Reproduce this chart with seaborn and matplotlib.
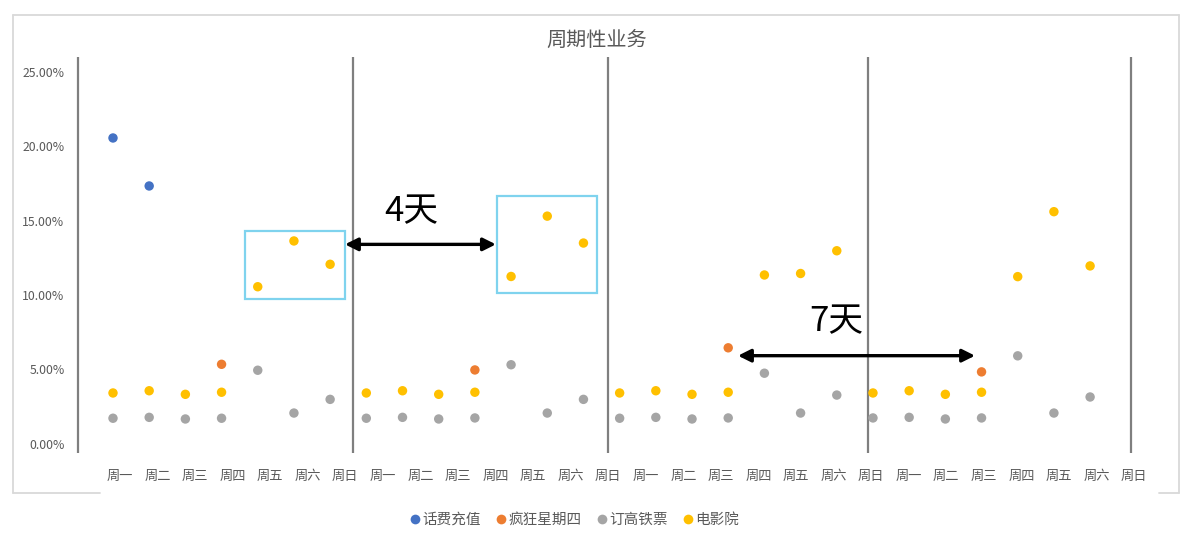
import numpy as np
import pandas as pd
import matplotlib
matplotlib.use("Agg")
import matplotlib.pyplot as plt
import seaborn as sns
from matplotlib.ticker import PercentFormatter
from matplotlib.patches import Rectangle
from matplotlib.lines import Line2D

# ---------------- data ----------------
day_labels = ["周一", "周二", "周三", "周四", "周五", "周六", "周日"] * 4
series_names = ["话费充值", "疯狂星期四", "订高铁票", "电影院"]
series_colors = ["#4472C4", "#ED7D31", "#A5A5A5", "#FFC000"]

phone_idx = [0, 1]
phone_vals = [0.2056, 0.1733]

kfc_idx = [3, 10, 17, 24]
kfc_vals = [0.0533, 0.0495, 0.0644, 0.0482]

train_vals = [0.0170, 0.0176, 0.0165, 0.0170, 0.0493, 0.0205, 0.0297,
              0.0170, 0.0176, 0.0165, 0.0172, 0.0530, 0.0205, 0.0297,
              0.0170, 0.0176, 0.0165, 0.0172, 0.0473, 0.0205, 0.0326,
              0.0172, 0.0176, 0.0165, 0.0172, 0.0590, 0.0205, 0.0313]

movie_vals = [0.0340, 0.0355, 0.0331, 0.0345, 0.1055, 0.1363, 0.1206,
              0.0340, 0.0355, 0.0331, 0.0345, 0.1124, 0.1530, 0.1349,
              0.0340, 0.0355, 0.0331, 0.0345, 0.1134, 0.1144, 0.1297,
              0.0340, 0.0355, 0.0331, 0.0345, 0.1123, 0.1560, 0.1195]

# annotation geometry (data coordinates)
sep_lines = [-0.97, 6.63, 13.67, 20.86, 28.12]
boxes = [(3.64, 0.0974, 2.78, 0.0456), (10.60, 0.1011, 2.78, 0.0657)]
arrows = [(6.41, 10.58, 0.1340, "4天", 8.25, 0.1560),
          (17.27, 23.82, 0.0591, "7天", 19.99, 0.0820)]

# ---------------- build table ----------------
rows = []
for i, v in zip(phone_idx, phone_vals):
    rows.append((i, v, series_names[0]))
for i, v in zip(kfc_idx, kfc_vals):
    rows.append((i, v, series_names[1]))
for i, v in enumerate(train_vals):
    rows.append((i, v, series_names[2]))
for i, v in enumerate(movie_vals):
    rows.append((i, v, series_names[3]))
df = pd.DataFrame(rows, columns=["pos", "value", "series"])

# ---------------- plot ----------------
sns.set_theme(style="white")
plt.rcParams["font.family"] = ["Noto Sans CJK SC", "DejaVu Sans"]

W, H = 1200, 547
fig = plt.figure(figsize=(12, 5.47), dpi=100)
ax_l, ax_r, ax_t, ax_b = 70, 1150, 50, 460
ax = fig.add_axes([ax_l / W, 1 - ax_b / H, (ax_r - ax_l) / W, (ax_b - ax_t) / H])

sns.scatterplot(data=df, x="pos", y="value", hue="series",
                hue_order=series_names, palette=series_colors,
                s=46, linewidth=0, legend=False, ax=ax, zorder=3)

ax.set_xlim(-1.188, 28.655)
ax.set_ylim(-0.0111, 0.2648)

for s in ax.spines.values():
    s.set_visible(False)

ax.vlines(sep_lines, -0.0064, 0.2600, colors="#7F7F7F", linewidth=1.6, zorder=2)

label_pos = [0.19 + 1.038 * j for j in range(len(day_labels))]
ax.set_xticks(label_pos)
ax.set_xticklabels(day_labels)
ax.set_yticks([0, 0.05, 0.10, 0.15, 0.20, 0.25])
ax.yaxis.set_major_formatter(PercentFormatter(xmax=1, decimals=2))
ax.tick_params(axis="x", length=0, pad=7, labelsize=9.5, labelcolor="#595959")
ax.tick_params(axis="y", length=0, pad=4, labelsize=8.8, labelcolor="#595959")
ax.set_xlabel("")
ax.set_ylabel("")
ax.grid(False)

for (x0, y0, w, h) in boxes:
    ax.add_patch(Rectangle((x0, y0), w, h, fill=False, edgecolor="#7FD3EE",
                           linewidth=1.6, zorder=4))

for (xa, xb, ya, txt, tx, ty) in arrows:
    ax.annotate("", xy=(xa, ya), xytext=(xb, ya),
                arrowprops=dict(arrowstyle="<|-|>", color="black", lw=2.4,
                                mutation_scale=19, shrinkA=0, shrinkB=0),
                zorder=5)
    ax.text(tx, ty, txt, ha="center", va="center", fontsize=25, color="black", zorder=5)

# title
fig.text(596.7 / W, 1 - 40 / H, "周期性业务", ha="center", va="center",
         fontsize=14.5, color="#595959")

# legend
handles = [Line2D([0], [0], marker="o", linestyle="", markersize=7,
                  markerfacecolor=c, markeredgewidth=0) for c in series_colors]
fig.legend(handles, series_names, loc="center", bbox_to_anchor=(575 / W, 1 - 520 / H),
           ncol=4, frameon=False, fontsize=10.5, handlelength=0.6,
           handletextpad=0.2, columnspacing=1.1, labelcolor="#595959")

# outer frame
fc = "#D9D9D9"
def fline(x0, y0, x1, y1):
    fig.add_artist(Line2D([x0 / W, x1 / W], [1 - y0 / H, 1 - y1 / H],
                          color=fc, linewidth=1.3))
fline(13, 15, 1179, 15)
fline(13, 15, 13, 493)
fline(1179, 15, 1179, 493)
fline(13, 493, 100, 493)
fline(1159, 493, 1179, 493)

fig.savefig("out.png", dpi=100)
